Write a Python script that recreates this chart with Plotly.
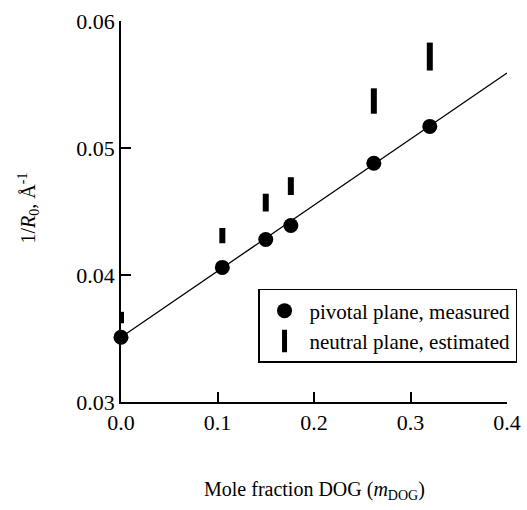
import plotly.graph_objects as go

# Data
mole_fraction = [0.0, 0.105, 0.150, 0.176, 0.262, 0.320]
pivotal_measured = [0.0351, 0.0406, 0.0428, 0.0439, 0.0488, 0.0517]
neutral_low = [0.0362, 0.0425, 0.0450, 0.0463, 0.0527, 0.0561]
neutral_high = [0.0371, 0.0437, 0.0464, 0.0477, 0.0547, 0.0583]
fit_x = [0.0, 0.4]
fit_y = [0.0351, 0.0559]

FONT = "Liberation Serif, Times New Roman, serif"

bar_x, bar_y = [], []
for x, lo, hi in zip(mole_fraction, neutral_low, neutral_high):
    bar_x += [x, x, None]
    bar_y += [lo, hi, None]

fig = go.Figure()
fig.add_trace(go.Scatter(x=fit_x, y=fit_y, mode="lines",
                         line=dict(color="black", width=1.3),
                         showlegend=False, cliponaxis=False, hoverinfo="skip"))
fig.add_trace(go.Scatter(x=mole_fraction, y=pivotal_measured, mode="markers",
                         marker=dict(symbol="circle", size=15, color="black"),
                         name="pivotal plane, measured", cliponaxis=False))
fig.add_trace(go.Scatter(x=bar_x, y=bar_y, mode="lines",
                         line=dict(color="black", width=6),
                         showlegend=False, cliponaxis=False))
fig.add_trace(go.Scatter(x=[None], y=[None], mode="markers",
                         marker=dict(symbol="line-ns", size=16, color="black",
                                     line=dict(color="black", width=6)),
                         name="neutral plane, estimated"))

axis_common = dict(showline=True, linecolor="black", linewidth=1.5,
                   ticks="inside", ticklen=10, tickwidth=1.5, tickcolor="black",
                   showgrid=False, zeroline=False, mirror=False,
                   tickfont=dict(family=FONT, size=22, color="black"))

fig.update_xaxes(range=[0, 0.4], dtick=0.1, tickformat=".1f", **axis_common)
fig.update_yaxes(range=[0.03, 0.06], dtick=0.01, tickformat=".2f", **axis_common)

fig.update_layout(
    width=527, height=510,
    margin=dict(l=121, r=20, t=21, b=108, autoexpand=False),
    paper_bgcolor="white", plot_bgcolor="white",
    font=dict(family=FONT, color="black"),
    legend=dict(x=0.355, xanchor="left", y=0.2966, yanchor="top",
                bordercolor="black", borderwidth=1.5, bgcolor="white",
                font=dict(family=FONT, size=21, color="black"),
                itemwidth=40, tracegroupgap=0),
    annotations=[
        dict(text="Mole fraction DOG (<i>m</i><sub>DOG</sub>)", xref="paper", yref="paper",
             x=0.5, y=0, yshift=-88, xanchor="center", yanchor="middle",
             showarrow=False, font=dict(family=FONT, size=20, color="black")),
        dict(text="1/<i>R</i><sub>0</sub>, Å<sup>-1</sup>", xref="paper", yref="paper",
             x=0, y=0.5, xshift=-93, yshift=3, xanchor="center", yanchor="middle",
             textangle=-90, showarrow=False,
             font=dict(family=FONT, size=20, color="black")),
    ],
)

fig.write_html("out.html")
